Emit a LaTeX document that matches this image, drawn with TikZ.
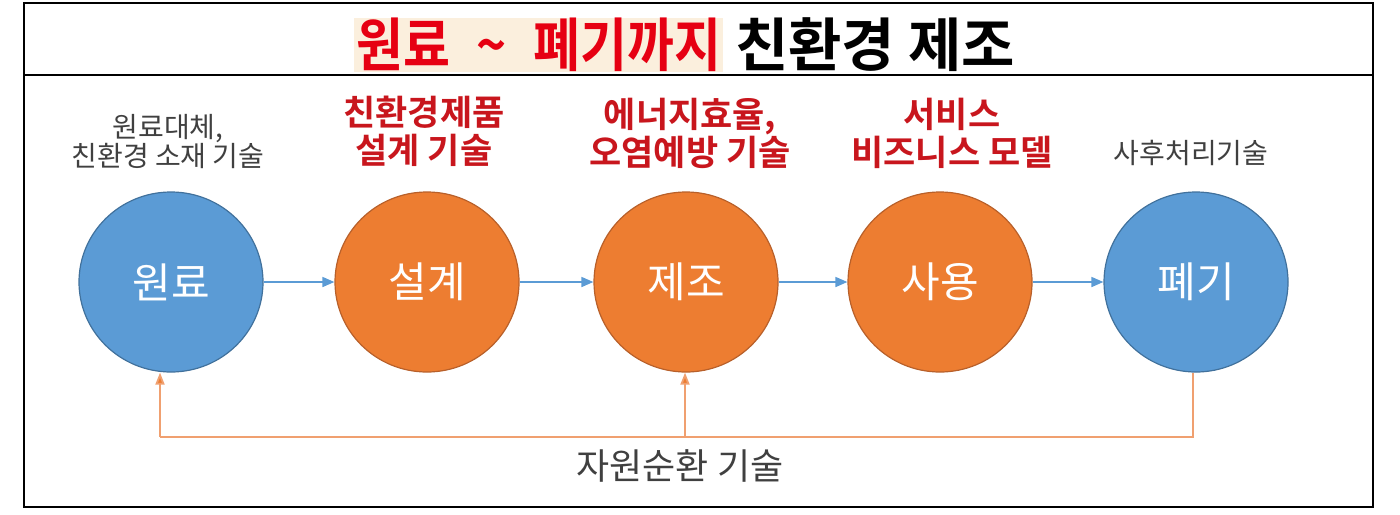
\documentclass[tikz,border=0pt]{standalone}
\usepackage{fontspec}
\newfontfamily\kr{Noto Sans CJK KR}
\newfontfamily\krb{Noto Sans CJK KR Bold}
\usetikzlibrary{arrows.meta,shapes.geometric}
\definecolor{cblue}{HTML}{5B9BD5}
\definecolor{cblueE}{HTML}{41719C}
\definecolor{corange}{HTML}{ED7D31}
\definecolor{corangeE}{HTML}{B8602A}
\definecolor{clabred}{HTML}{C8161D}
\definecolor{ctitred}{HTML}{E60012}
\definecolor{chl}{HTML}{FBEFDD}
\definecolor{cgray}{HTML}{404040}
\definecolor{cfeed}{HTML}{F0A070}
\newlength{\px}\setlength{\px}{0.5pt}
\tikzset{
  stage/.style={ellipse, minimum width=184\px, minimum height=180\px, inner sep=0pt, line width=0.6pt, text=white, font=\kr\fontsize{21}{24}\selectfont},
  bluestage/.style={stage, fill=cblue, draw=cblueE},
  orangestage/.style={stage, fill=corange, draw=corangeE},
  flow/.style={draw=cblue, line width=0.8pt, -{Triangle[length=6pt,width=5pt]}},
  feed/.style={draw=cfeed, line width=0.9pt},
  feedarrow/.style={feed, -{Triangle[length=6pt,width=4.5pt,fill=corange]}},
  redlab/.style={align=center, text=clabred, font=\krb\fontsize{17.5}{19}\selectfont},
  graylab/.style={align=center, text=cgray, font=\kr\fontsize{14}{14.5}\selectfont},
  titlefont/.style={font=\krb\fontsize{29}{32}\selectfont},
}
\begin{document}
\begin{tikzpicture}[x=0.5pt,y=-0.5pt]
\useasboundingbox (0,0) rectangle (1400,514);
\draw[line width=0.7pt] (24,3) rectangle (1373,507);
\draw[line width=0.7pt] (24,75) -- (1373,75);
% title
\fill[chl] (354,18) rectangle (723,72);
\node[anchor=center, text=ctitred, titlefont, xscale=0.88, inner sep=0pt] (t1) at (539,45) {원료\hspace{15pt}\textasciitilde\hspace{15pt}폐기까지};
\node[anchor=west, text=black, titlefont] (t2) at (728,45) {친환경 제조};
% stages
\node[bluestage] (a) at (171,282) {원료};
\node[orangestage] (b) at (427,282) {설계};
\node[orangestage] (c) at (686,282) {제조};
\node[orangestage] (d) at (940,282) {사용};
\node[bluestage] (e) at (1196,282) {폐기};
\draw[flow] (a) -- (b);
\draw[flow] (b) -- (c);
\draw[flow] (c) -- (d);
\draw[flow] (d) -- (e);
% labels
\node[graylab] (la) at (168,142) {원료대체,\\친환경 소재 기술};
\node[redlab] (lb) at (424,131) {친환경제품\\설계 기술};
\node[redlab] (lc) at (690,133) {에너지효율,\\오염예방 기술};
\node[redlab] (ld) at (952,133) {서비스\\비즈니스 모델};
\node[graylab] (le) at (1191,153) {사후처리기술};
% feedback
\coordinate (fe) at (1193,437);
\coordinate (fa) at (160,437);
\coordinate (fc) at (685,437);
\draw[feed] (e.south -| fe) -- (fe) -- (fa);
\draw[feedarrow] (fa) -- (fa |- a.south);
\draw[feedarrow] (fc) -- (fc |- c.south);
\node[text=cgray, font=\kr\fontsize{18}{20}\selectfont] (lf) at (680,466) {자원순환 기술};
\end{tikzpicture}
\end{document}
